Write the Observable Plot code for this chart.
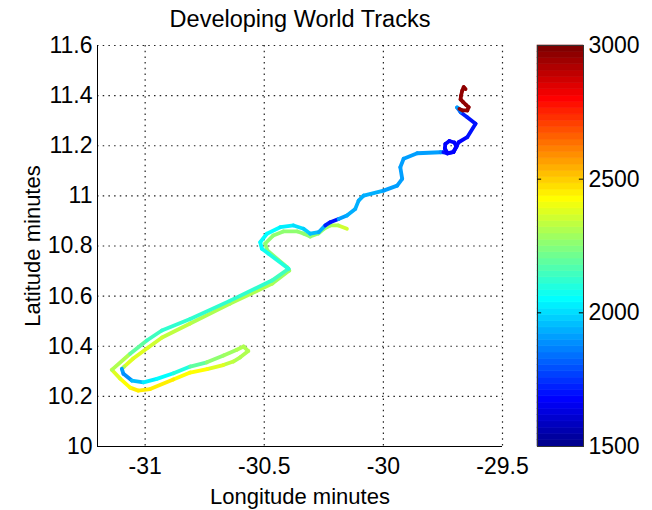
<!DOCTYPE html>
<html>
<head>
<meta charset="utf-8">
<script src="https://cdn.jsdelivr.net/npm/d3@7"></script>
<script src="https://cdn.jsdelivr.net/npm/@observablehq/plot@0.6"></script>
<style>
  html, body { margin: 0; padding: 0; background: white; }
  #chart { display: flex; flex-direction: row; width: 652px; height: 510px; background: white; }
</style>
</head>
<body>
<div id="chart"></div>
<script>
// ---- data ----
const titleText = "Developing World Tracks";
const xLabel = "Longitude minutes";
const yLabel = "Latitude minutes";
const xDomain = [-31.2, -29.5];
const yDomain = [10, 11.6];
const xTicks = [-31, -30.5, -30, -29.5];
const yTicks = [10, 10.2, 10.4, 10.6, 10.8, 11, 11.2, 11.4, 11.6];
const colorDomain = [1500, 3000];
const cbTicks = [1500, 2000, 2500, 3000];

const trackLon = [
  -30.153, -30.189, -30.223, -30.248, -30.273, -30.307, -30.336, -30.361, -30.420, -30.462,
  -30.496, -30.487, -30.403, -30.395, -30.466, -30.643, -30.811, -30.929, -30.987, -31.050,
  -31.088, -31.098, -31.091, -31.056, -31.007, -30.951, -30.881, -30.811, -30.741, -30.671,
  -30.615, -30.587, -30.567, -30.601, -30.630, -30.672, -30.740, -30.811, -30.882, -30.979,
  -31.029, -31.063, -31.105, -31.140, -31.063, -30.993, -30.930, -30.811, -30.643, -30.468,
  -30.398, -30.482, -30.510, -30.517, -30.489, -30.433, -30.377, -30.335, -30.307, -30.272,
  -30.244, -30.223, -30.188, -30.153, -30.118, -30.104, -30.083, -29.999, -29.942, -29.921,
  -29.929, -29.915, -29.858, -29.760, -29.748, -29.731, -29.706, -29.693, -29.702, -29.723,
  -29.740, -29.742, -29.731, -29.706, -29.693, -29.684, -29.648, -29.613, -29.648, -29.676,
  -29.691, -29.681, -29.668, -29.648, -29.642, -29.653, -29.666, -29.676, -29.674, -29.669,
  -29.663, -29.655
];
const trackLat = [
  10.869, 10.882, 10.882, 10.870, 10.850, 10.838, 10.850, 10.858, 10.858, 10.842,
  10.810, 10.782, 10.714, 10.702, 10.650, 10.570, 10.491, 10.435, 10.395, 10.351,
  10.319, 10.310, 10.290, 10.263, 10.256, 10.270, 10.292, 10.319, 10.336, 10.363,
  10.386, 10.399, 10.381, 10.356, 10.339, 10.325, 10.309, 10.295, 10.267, 10.229,
  10.223, 10.235, 10.271, 10.306, 10.370, 10.423, 10.463, 10.509, 10.582, 10.662,
  10.709, 10.769, 10.789, 10.815, 10.849, 10.875, 10.882, 10.869, 10.849, 10.855,
  10.882, 10.895, 10.908, 10.922, 10.948, 10.981, 11.001, 11.021, 11.041, 11.068,
  11.114, 11.148, 11.170, 11.174, 11.174, 11.169, 11.175, 11.197, 11.213, 11.219,
  11.207, 11.189, 11.171, 11.175, 11.197, 11.214, 11.234, 11.288, 11.314, 11.334,
  11.353, 11.347, 11.341, 11.341, 11.354, 11.363, 11.375, 11.385, 11.400, 11.420,
  11.434, 11.426
];
const trackVal = [
  2350, 2300, 2280, 2270, 2260, 2260, 2250, 2250, 2250, 2250,
  2250, 2250, 2270, 2280, 2300, 2320, 2340, 2360, 2380, 2380,
  2300, 1900, 1880, 1950, 2020, 2050, 2100, 2200, 2250, 2280,
  2300, 2300, 2320, 2320, 2340, 2380, 2420, 2430, 2440, 2440,
  2440, 2430, 2380, 2300, 2200, 2150, 2130, 2120, 2130, 2150,
  2100, 2080, 2060, 2050, 2050, 2020, 2000, 1980, 1960, 1930,
  1720, 1700, 1920, 1930, 1940, 1940, 1930, 1920, 1920, 1910,
  1900, 1900, 1900, 1880, 1700, 1680, 1680, 1680, 1680, 1680,
  1680, 1680, 1680, 1680, 1680, 1680, 1700, 1700, 1720, 1850,
  1900, 2970, 2970, 2970, 2970, 2970, 2970, 2970, 2970, 2970,
  2970, 2970
];

// ---- jet colormap (MATLAB jet, 64 levels) ----
function jetU(j) {
  if (j < 1 || j > 47) return 0;
  if (j <= 16) return j / 16;
  if (j <= 31) return 1;
  return (48 - j) / 16;
}
function jetColor(k) {
  const K = k + 1;
  return d3.rgb(255 * jetU(K - 24), 255 * jetU(K - 8), 255 * jetU(K + 8)).formatHex();
}
const jet = t => jetColor(Math.max(0, Math.min(63, Math.floor(t * 64))));
const colorScale = {type: "linear", domain: colorDomain, interpolate: jet};

const segs = trackLon.slice(1).map((_, i) => ({
  x1: trackLon[i], y1: trackLat[i], x2: trackLon[i + 1], y2: trackLat[i + 1], v: trackVal[i]
}));

const bandCount = 64;
const bands = d3.range(bandCount).map(i => {
  const step = (colorDomain[1] - colorDomain[0]) / bandCount;
  const lo = colorDomain[0] + i * step;
  return {lo, hi: lo + step, v: lo + step / 2};
});

const font = "'Liberation Sans', Arial, Helvetica, sans-serif";
const fmt = d => String(d);
const gridStyle = {stroke: "#222", strokeDasharray: "1.5,4.2", strokeWidth: 1.2};

const main = Plot.plot({
  width: 525, height: 510,
  marginLeft: 97, marginRight: 23, marginTop: 45, marginBottom: 64,
  style: {fontFamily: font, fontSize: "23px", color: "black", background: "transparent", overflow: "visible"},
  x: {domain: xDomain, ticks: xTicks, tickFormat: fmt, tickSize: 0, tickPadding: 11, label: null},
  y: {domain: yDomain, ticks: yTicks, tickFormat: fmt, tickSize: 0, tickPadding: 5, label: null},
  color: colorScale,
  marks: [
    Plot.ruleX(xTicks, gridStyle),
    Plot.ruleY(yTicks.slice(1), gridStyle),
    Plot.ruleX([xDomain[0]], {stroke: "black", strokeWidth: 1}),
    Plot.ruleY([yDomain[0]], {stroke: "black", strokeWidth: 1}),
    Plot.link(segs, {x1: "x1", y1: "y1", x2: "x2", y2: "y2", stroke: "v", strokeWidth: 3.8, strokeLinecap: "round"}),
    Plot.text([titleText], {frameAnchor: "top", dy: -26, textAnchor: "middle", lineAnchor: "middle", fontSize: 23.5, fill: "black"}),
    Plot.text([xLabel], {frameAnchor: "bottom", dy: 50, textAnchor: "middle", lineAnchor: "middle", fontSize: 22, fill: "black"}),
    Plot.text([yLabel], {frameAnchor: "left", dx: -65, rotate: -90, textAnchor: "middle", lineAnchor: "middle", fontSize: 22, fill: "black"})
  ]
});

const cbar = Plot.plot({
  width: 127, height: 510,
  marginLeft: 12, marginRight: 69, marginTop: 45, marginBottom: 64,
  style: {fontFamily: font, fontSize: "23px", color: "black", background: "transparent", overflow: "visible"},
  x: {domain: [0, 1], axis: null},
  y: {domain: colorDomain, ticks: cbTicks, tickFormat: fmt, tickSize: 0, tickPadding: 5, axis: "right", label: null},
  color: colorScale,
  marks: [
    Plot.rect(bands, {x1: 0, x2: 1, y1: "lo", y2: "hi", fill: "v", stroke: "v", strokeWidth: 0.6}),
    Plot.frame({stroke: "#333", strokeWidth: 1}),
    Plot.ruleY(cbTicks.slice(1, 3), {x1: 0, x2: 0.09, stroke: "black"}),
    Plot.ruleY(cbTicks.slice(1, 3), {x1: 0.91, x2: 1, stroke: "black"})
  ]
});

document.getElementById("chart").append(main, cbar);
</script>
</body>
</html>
